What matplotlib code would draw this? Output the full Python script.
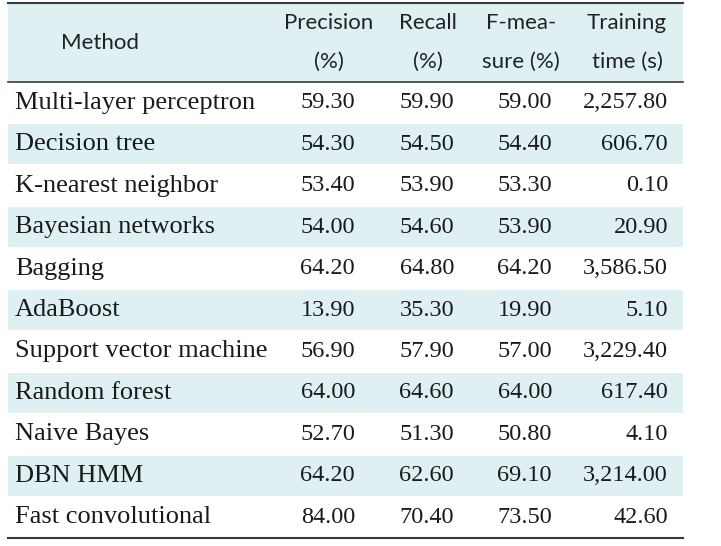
import matplotlib.pyplot as plt
from matplotlib.patches import Rectangle

methods = ["Multi-layer perceptron", "Decision tree", "K-nearest neighbor",
           "Bayesian networks", "Bagging", "AdaBoost", "Support vector machine",
           "Random forest", "Naive Bayes", "DBN HMM", "Fast convolutional"]
precision = ["59.30", "54.30", "53.40", "54.00", "64.20", "13.90", "56.90",
             "64.00", "52.70", "64.20", "84.00"]
recall = ["59.90", "54.50", "53.90", "54.60", "64.80", "35.30", "57.90",
          "64.60", "51.30", "62.60", "70.40"]
fmeasure = ["59.00", "54.40", "53.30", "53.90", "64.20", "19.90", "57.00",
            "64.00", "50.80", "69.10", "73.50"]
train_time = ["2,257.80", "606.70", "0.10", "20.90", "3,586.50", "5.10",
              "3,229.40", "617.40", "4.10", "3,214.00", "42.60"]
headers = [["Method"], ["Precision", "(%)"], ["Recall", "(%)"],
           ["F-mea-", "sure (%)"], ["Training", "time (s)"]]

blue = "#dff0f3"
line_c = "#3a3a3a"
head_font = "Lato"
body_font = "Liberation Serif"

fig = plt.figure(figsize=(7.21, 5.46), dpi=100)
ax = fig.add_axes([0, 0, 1, 1])
ax.set_xlim(0, 721)
ax.set_ylim(546, 0)
ax.axis("off")

left, right = 8, 683
top, head_bot, bottom = 3, 82, 538
row_h = (bottom - head_bot) / len(methods)

# header background
ax.add_patch(Rectangle((left, top), right - left, head_bot - top, color=blue, lw=0))

head_x = [100, 329, 428, 521, 627]
for hx, lines in zip(head_x, headers):
    if len(lines) == 1:
        ax.text(hx, 43, lines[0], ha="center", va="center",
                fontsize=16, family=head_font, color="#222222")
    else:
        ax.text(hx, 23, lines[0], ha="center", va="center", fontsize=16,
                family=head_font, color="#222222")
        ax.text(hx, 62, lines[1], ha="center", va="center", fontsize=16,
                family=head_font, color="#222222")

val_x = [355, 454, 552, 668]
for i, m in enumerate(methods):
    y0 = head_bot + i * row_h
    if i % 2 == 1:
        ax.add_patch(Rectangle((left, y0 + 1), right - left, row_h - 2, color=blue, lw=0))
    yc = y0 + row_h / 2
    ax.text(15, yc, m, ha="left", va="center", fontsize=19, family=body_font, color="#1a1a1a")
    for vx, col in zip(val_x, [precision, recall, fmeasure, train_time]):
        ax.text(vx, yc, col[i], ha="right", va="center", fontsize=17.5,
                family=body_font, color="#1a1a1a")

ax.plot([left, right], [top, top], color=line_c, lw=1.5)
ax.plot([left, right], [head_bot, head_bot], color=line_c, lw=1.2)
ax.plot([left, right], [bottom, bottom], color=line_c, lw=1.5)

fig.savefig("out.png", dpi=100)
